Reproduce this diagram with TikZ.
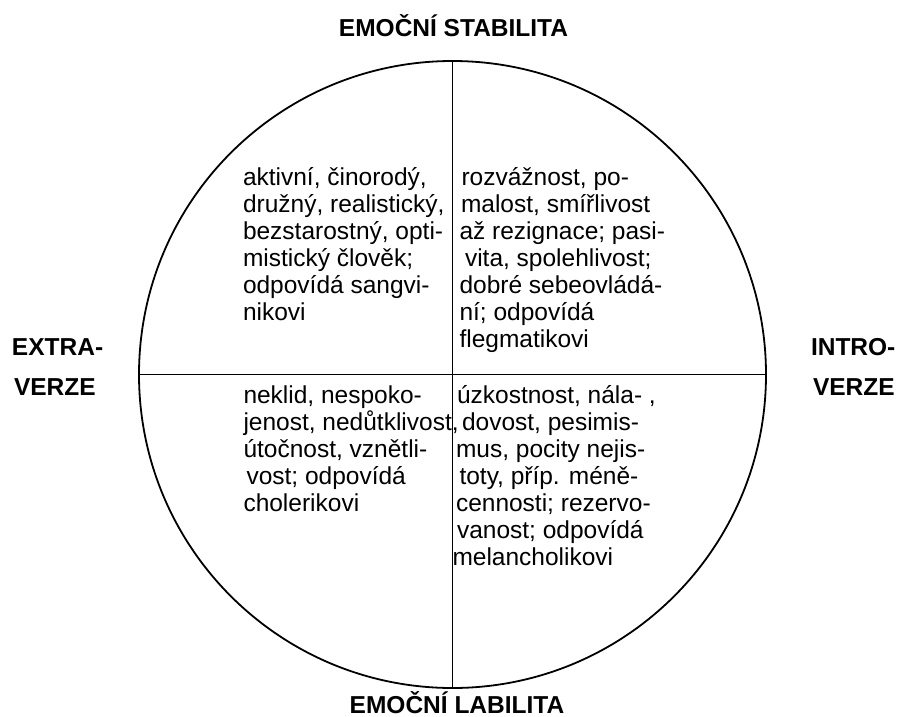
\documentclass[tikz,border=0pt]{standalone}
\usepackage{fontspec}
\setmainfont{Liberation Sans}
\begin{document}
\begin{tikzpicture}[x=1pt,y=-1pt,
  body/.style={anchor=base west, align=left, inner sep=0pt, outer sep=0pt,
    font={\fontsize{24.5}{27}\selectfont}},
  head/.style={anchor=base, inner sep=0pt, outer sep=0pt,
    font={\fontsize{24.5}{27}\selectfont\bfseries}},
  side/.style={anchor=base west, align=left, inner sep=0pt, outer sep=0pt,
    font={\fontsize{24.5}{40}\selectfont\bfseries}},
  ring/.style={circle, draw, line width=1.8pt, minimum size=627pt, inner sep=0pt, outer sep=0pt},
  axis/.style={line width=1.8pt}]
\useasboundingbox (0,0) rectangle (899,717);
\node[ring] (c) at (452.5,374.5) {};
\draw[axis] (c.north) -- (c.south);
\draw[axis] (c.west) -- (c.east);
\node[head] (top) at (453.5,37) {EMOČNÍ STABILITA};
\node[head] (bot) at (457,713) {EMOČNÍ LABILITA};
% multi-line nodes: base anchor sits on the last line's baseline
\node[side] (left) at (12,395) {EXTRA-\\\hspace*{2pt}VERZE};
\node[side] (right) at (811,395) {INTRO-\\\hspace*{2pt}VERZE};
\node[body] (tl) at (243,320) {aktivní, činorodý,\\družný, realistický,\\bezstarostný, opti-\\mistický člověk;\\odpovídá sangvi-\\nikovi};
\node[body] (tr) at (459.5,347) {\hspace*{2pt}rozvážnost, po-\\\hspace*{1.5pt}malost, smířlivost\\až rezignace; pasi-\\\hspace*{5.5pt}vita, spolehlivost;\\dobré sebeovládá-\\ní; odpovídá\\flegmatikovi};
\node[body] (bl) at (243.5,511) {neklid, nespoko-\\jenost, nedůtklivost,\\útočnost, vznětli-\\\hspace*{3pt}vost; odpovídá\\cholerikovi};
\node[body] (br) at (456,565) {\hspace*{1pt}úzkostnost, nála- ,\\\hspace*{6pt}dovost, pesimis-\\mus, pocity nejis-\\\hspace*{3.5pt}toty, příp. méně-\\cennosti; rezervo-\\\hspace*{1pt}vanost; odpovídá\\\hspace*{-3.5pt}melancholikovi};
\end{tikzpicture}
\end{document}
